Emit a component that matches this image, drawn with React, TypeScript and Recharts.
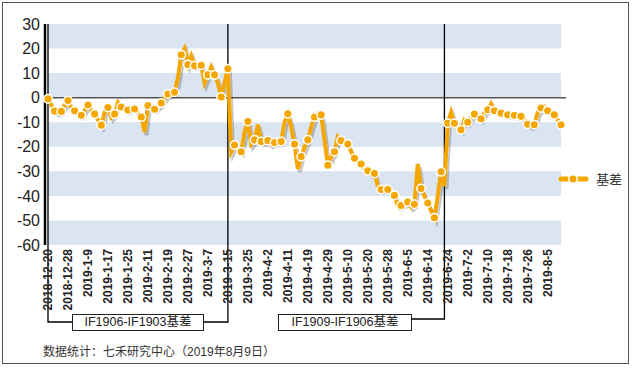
import React from "react";
import {
	LineChart,
	Line,
	XAxis,
	YAxis,
	ReferenceArea,
	ReferenceLine,
	Legend,
} from "recharts";

// trading days, 2018-12-20 .. 2019-8-9
const dates = [
	"2018-12-20", "2018-12-21", "2018-12-24", "2018-12-25", "2018-12-26", "2018-12-27", "2018-12-28",
	"2019-1-2", "2019-1-3", "2019-1-4", "2019-1-7", "2019-1-8", "2019-1-9",
	"2019-1-10", "2019-1-11", "2019-1-14", "2019-1-15", "2019-1-16", "2019-1-17",
	"2019-1-18", "2019-1-21", "2019-1-22", "2019-1-23", "2019-1-24", "2019-1-25",
	"2019-1-28", "2019-1-29", "2019-1-30", "2019-1-31", "2019-2-1", "2019-2-11",
	"2019-2-12", "2019-2-13", "2019-2-14", "2019-2-15", "2019-2-18", "2019-2-19",
	"2019-2-20", "2019-2-21", "2019-2-22", "2019-2-25", "2019-2-26", "2019-2-27",
	"2019-2-28", "2019-3-1", "2019-3-4", "2019-3-5", "2019-3-6", "2019-3-7",
	"2019-3-8", "2019-3-11", "2019-3-12", "2019-3-13", "2019-3-14", "2019-3-15",
	"2019-3-18", "2019-3-19", "2019-3-20", "2019-3-21", "2019-3-22", "2019-3-25",
	"2019-3-26", "2019-3-27", "2019-3-28", "2019-3-29", "2019-4-1", "2019-4-2",
	"2019-4-3", "2019-4-4", "2019-4-8", "2019-4-9", "2019-4-10", "2019-4-11",
	"2019-4-12", "2019-4-15", "2019-4-16", "2019-4-17", "2019-4-18", "2019-4-19",
	"2019-4-22", "2019-4-23", "2019-4-24", "2019-4-25", "2019-4-26", "2019-4-29",
	"2019-4-30", "2019-5-6", "2019-5-7", "2019-5-8", "2019-5-9", "2019-5-10",
	"2019-5-13", "2019-5-14", "2019-5-15", "2019-5-16", "2019-5-17", "2019-5-20",
	"2019-5-21", "2019-5-22", "2019-5-23", "2019-5-24", "2019-5-27", "2019-5-28",
	"2019-5-29", "2019-5-30", "2019-5-31", "2019-6-3", "2019-6-4", "2019-6-5",
	"2019-6-6", "2019-6-10", "2019-6-11", "2019-6-12", "2019-6-13", "2019-6-14",
	"2019-6-17", "2019-6-18", "2019-6-19", "2019-6-20", "2019-6-21", "2019-6-24",
	"2019-6-25", "2019-6-26", "2019-6-27", "2019-6-28", "2019-7-1", "2019-7-2",
	"2019-7-3", "2019-7-4", "2019-7-5", "2019-7-8", "2019-7-9", "2019-7-10",
	"2019-7-11", "2019-7-12", "2019-7-15", "2019-7-16", "2019-7-17", "2019-7-18",
	"2019-7-19", "2019-7-22", "2019-7-23", "2019-7-24", "2019-7-25", "2019-7-26",
	"2019-7-29", "2019-7-30", "2019-7-31", "2019-8-1", "2019-8-2", "2019-8-5",
	"2019-8-6", "2019-8-7", "2019-8-8", "2019-8-9",
];

// 基差 (index points)
const basis = [
	-0.5, -3, -5.5, -6, -5.6, -3, -1.2, -4, -5.3, -7, -7.2, -5, -3,
	-5, -6.7, -9, -11.2, -6, -4, -8, -6.7, -2, -3.8, -4, -5,
	-4, -4.6, -6, -7.9, -14, -3.2, -4, -4.7, -3.5, -2.2, 0, 1.5,
	2, 2.2, 8, 17.5, 20, 13.5, 17, 13, 13.5, 13.2, 6, 9.3,
	12.5, 9.3, 6, 0.3, 6, 11.8, -22, -19.3, -21, -22, -14, -9.7,
	-19, -17.2, -11, -17.9, -18, -17.5, -19, -18.3, -18, -17.9, -10, -6.6,
	-12, -18.9, -29, -24, -20, -17.2, -12, -7.9, -6.5, -7, -17, -27.5,
	-24, -22, -16, -17.5, -18, -18.9, -22, -24.7, -26, -27, -29, -29.8,
	-31, -30.9, -36, -37.4, -37, -37.4, -39, -39.8, -44, -43.9, -43, -42.5,
	-44.5, -43.4, -27, -37, -40, -42.9, -46, -48.9, -40, -30.2, -36, -10.4,
	-6, -10.4, -12, -13.1, -9, -10, -8, -6.7, -7, -8.6, -6, -4.9,
	-2.5, -5.3, -6, -6.3, -6.5, -7, -7, -7.2, -7.5, -7.6, -9, -10.8,
	-11.5, -11, -6, -4.2, -3.5, -5.3, -6, -7, -9, -11,
];

const yTicks = [30, 20, 10, 0, -10, -20, -30, -40, -50, -60];
const shadedBands = [
	[30, 20],
	[10, 0],
	[-10, -20],
	[-30, -40],
	[-50, -60],
];
const contractLabels = ["IF1906-IF1903基差", "IF1909-IF1906基差"];
const sourceNote = "数据统计：七禾研究中心（2019年8月9日）";

const data = dates.map((date, i) => ({ date, value: basis[i] }));

const ORANGE = "#f5a700";
const FONT = 'Arial, "Liberation Sans", "Noto Sans CJK SC", sans-serif';

// roll dates; each line runs down into the bracket of its label box
const brackets = [
	{ date: "2018-12-20", bottom: 322, toX: 72 },
	{ date: "2019-3-15", bottom: 322, toX: 204 },
	{ date: "2019-6-21", bottom: 319, toX: 412 },
];

const XTick = ({ x, y, payload }: any) => (
	<g transform={`translate(${x},${y})`}>
		<text
			transform="rotate(-90)"
			x={-4}
			dy="0.35em"
			textAnchor="end"
			fontSize={12}
			fontWeight="bold"
			fill="#222"
			fontFamily={FONT}
		>
			{payload.value}
		</text>
	</g>
);

const renderDot = (p: any) => {
	if (p.index % 2 !== 0) return <g key={`d${p.index}`} />;
	return (
		<circle
			key={`d${p.index}`}
			cx={p.cx}
			cy={p.cy}
			r={4.3}
			fill={ORANGE}
			stroke="#fff"
			strokeWidth={1.5}
		/>
	);
};

const bracketShape = (bottom: number, toX: number) => (props: any) => {
	const x = props.x1;
	const top = Math.min(props.y1, props.y2);
	return (
		<path
			d={`M${x},${top}V${bottom}H${toX}`}
			fill="none"
			stroke="#000"
			strokeWidth={1.3}
		/>
	);
};

const LegendContent = () => (
	<div style={{ display: "flex", alignItems: "center", fontFamily: FONT }}>
		<svg width={32} height={12}>
			<line x1={3} y1={6} x2={28} y2={6} stroke={ORANGE} strokeWidth={5} strokeLinecap="round" />
			<circle cx={15} cy={6} r={4.3} fill={ORANGE} stroke="#fff" strokeWidth={1.5} />
		</svg>
		<span style={{ marginLeft: 6, fontSize: 13, color: "#333" }}>基差</span>
	</div>
);

const boxStyle = (left: number, width: number): React.CSSProperties => ({
	position: "absolute",
	left,
	top: 314,
	width,
	height: 17,
	boxSizing: "border-box",
	border: "1px solid #222",
	background: "#fff",
	fontSize: 12.5,
	lineHeight: "15px",
	textAlign: "center",
	color: "#222",
});

export default function App() {
	return (
		<div
			style={{
				position: "absolute",
				left: 0,
				top: 0,
				width: 635,
				height: 368,
				background: "#fff",
				fontFamily: FONT,
			}}
		>
			<LineChart
				width={635}
				height={368}
				data={data}
				margin={{ top: 24, right: 69, bottom: 0, left: 0 }}
			>
				<defs>
					<filter id="lineShadow" x="-5%" y="-5%" width="110%" height="115%">
						<feDropShadow dx="2" dy="3" stdDeviation="0.6" floodColor="#000" floodOpacity="0.22" />
					</filter>
				</defs>
				{shadedBands.map(([a, b]) => (
					<ReferenceArea
						key={a}
						y1={a}
						y2={b}
						fill="#dbe5f1"
						fillOpacity={1}
						stroke="none"
					/>
				))}
				<ReferenceLine y={0} stroke="#555" strokeWidth={1.5} />
				{brackets.map((b) => (
					<ReferenceLine
						key={b.date}
						x={b.date}
						stroke="#000"
						shape={bracketShape(b.bottom, b.toX)}
					/>
				))}
				<XAxis
					dataKey="date"
					interval={5}
					tickLine={false}
					axisLine={false}
					tickSize={0}
					tickMargin={0}
					height={123}
					padding={{ left: 3, right: 5 }}
					tick={<XTick />}
				/>
				<YAxis
					domain={[-60, 30]}
					ticks={yTicks}
					allowDataOverflow
					width={45}
					tickLine={false}
					tickSize={0}
					tickMargin={5}
					axisLine={{ stroke: "#000", strokeWidth: 2.5 }}
					tick={{ fontSize: 16, fill: "#222", fontFamily: FONT }}
				/>
				<Line
					type="linear"
					dataKey="value"
					name="基差"
					stroke={ORANGE}
					strokeWidth={4}
					filter="url(#lineShadow)"
					dot={renderDot}
					activeDot={false}
					isAnimationActive={false}
				/>
				<Legend
					layout="horizontal"
					verticalAlign="middle"
					align="center"
					content={<LegendContent />}
					wrapperStyle={{ left: 558, top: 169, right: "auto", bottom: "auto", width: 75 }}
				/>
			</LineChart>
			<div style={boxStyle(72, 132)}>{contractLabels[0]}</div>
			<div style={boxStyle(278, 134)}>{contractLabels[1]}</div>
			<div
				style={{
					position: "absolute",
					left: 43,
					top: 342,
					fontSize: 12,
					color: "#333",
					whiteSpace: "nowrap",
				}}
			>
				{sourceNote}
			</div>
			<div
				style={{
					position: "absolute",
					left: 2,
					top: 2,
					width: 627,
					height: 362,
					boxSizing: "border-box",
					border: "1.5px solid #555",
					pointerEvents: "none",
				}}
			/>
		</div>
	);
}
